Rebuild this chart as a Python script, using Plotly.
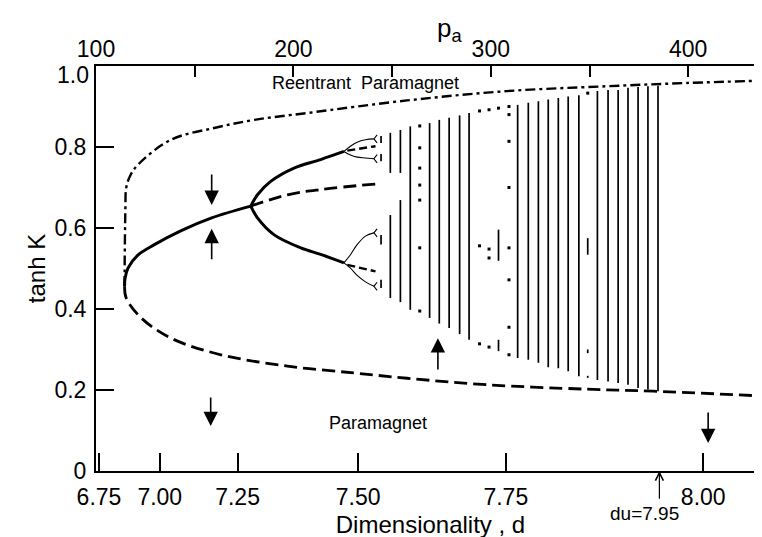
import plotly.graph_objects as go

# ---------------- data (x in p_a units, y in tanh K) ----------------
# bottom axis: dimensionality d labels placed at their p_a positions
d_tick_labels = ["6.75", "7.00", "7.25", "7.50", "7.75", "8.00"]
d_tick_pa = [101.5, 132.3, 171.7, 232.8, 307.6, 407.6]
du_pa = 385.4

pa_ticks = [100, 150, 200, 250, 300, 350, 400]
pa_tick_labels = ["100", "", "200", "", "300", "", "400"]

y_ticks = [0, 0.2, 0.4, 0.6, 0.8, 1.0]
y_tick_labels = ["0", "0.2", "0.4", "0.6", "0.8", ""]
y_top_label = "1.0"

# stable fixed point (solid) from the nose to first bifurcation
fp_pa = [114.5, 114.7, 116.2, 121.2, 129.6, 142.9, 158.6, 178.4]
fp_t = [0.456, 0.475, 0.501, 0.533, 0.559, 0.593, 0.625, 0.654]

# lower unstable branch (dashed)
low_pa = [114.5, 115.3, 122.9, 138.0, 163.3, 197.0, 230.7, 257.6, 298.0, 348.5, 382.2, 438.9]
low_t = [0.456, 0.427, 0.378, 0.328, 0.287, 0.259, 0.242, 0.229, 0.213, 0.202, 0.197, 0.185]

# upper boundary (dash-dot)
up_pa = [114.5, 114.5, 114.9, 115.3, 117.2, 121.2, 138.0, 159.9, 180.2, 207.1, 257.6, 308.1, 358.6, 399.0, 438.9]
up_t = [0.456, 0.494, 0.649, 0.699, 0.728, 0.756, 0.818, 0.847, 0.867, 0.884, 0.915, 0.938, 0.950, 0.958, 0.964]

# unstable fixed point continuation (dashed)
mid_pa = [178.4, 197.0, 213.8, 242.4]
mid_t = [0.654, 0.682, 0.695, 0.709]

# period-2 branches (solid)
p2u_pa = [178.4, 181.8, 188.5, 200.3, 213.8, 225.6]
p2u_t = [0.654, 0.682, 0.715, 0.748, 0.769, 0.789]
p2l_pa = [178.4, 181.8, 190.3, 203.7, 213.8, 225.6]
p2l_t = [0.654, 0.625, 0.583, 0.551, 0.535, 0.514]

# unstable period-2 continuation (dashed)
p2u_dash_pa = [227.3, 241.6]
p2u_dash_t = [0.791, 0.802]
p2l_dash_pa = [227.3, 241.6]
p2l_dash_t = [0.509, 0.493]

# period-4 branches (thin)
p4_pa = [225.6, 228.9, 232.3, 236.5, 240.8]
p4_uu_t = [0.789, 0.802, 0.812, 0.818, 0.820]
p4_ud_t = [0.789, 0.780, 0.775, 0.773, 0.771]
p4_lu_t = [0.514, 0.534, 0.559, 0.580, 0.588]
p4_ld_t = [0.514, 0.501, 0.483, 0.467, 0.456]

# chaotic-region vertical bands: (p_a, lower t, upper t)
seg_pa = [244.4, 244.4, 244.4, 244.4,
          249.1, 249.1,
          254.2, 254.2,
          259.2, 269.0, 273.9, 278.9, 284.2, 289.0,
          303.9, 303.9,
          313.6, 319.0, 324.1, 329.1, 334.2, 339.2, 344.6,
          349.1, 349.1, 349.1,
          354.0, 359.4, 364.5, 369.5, 374.6, 379.6, 384.7]
seg_lo = [0.765, 0.810, 0.559, 0.452,
          0.736, 0.427,
          0.736, 0.417,
          0.398, 0.378, 0.364, 0.353, 0.338, 0.324,
          0.519, 0.296,
          0.279, 0.275, 0.267, 0.256, 0.254, 0.246, 0.234,
          0.534, 0.291, 0.230,
          0.225, 0.221, 0.217, 0.213, 0.205, 0.201, 0.197]
seg_hi = [0.783, 0.827, 0.583, 0.472,
          0.835, 0.632,
          0.842, 0.669,
          0.851, 0.859, 0.867, 0.872, 0.878, 0.884,
          0.596, 0.324,
          0.904, 0.909, 0.913, 0.917, 0.921, 0.925, 0.928,
          0.575, 0.300, 0.235,
          0.938, 0.941, 0.941, 0.946, 0.948, 0.950, 0.951]

# periodic windows (isolated points)
dot_pa = [264.0] * 7 + [294.3] * 3 + [299.1] * 4 + [303.9] + [309.2] * 8 + [349.1]
dot_t = [0.852, 0.798, 0.748, 0.706, 0.669, 0.551, 0.395,
         0.889, 0.556, 0.314,
         0.892, 0.548, 0.526, 0.306,
         0.896,
         0.900, 0.880, 0.814, 0.700, 0.551, 0.472, 0.355, 0.287,
         0.933]

# ends of the period-4 branches where period-8 hooks start
hook_pa = [240.8, 240.8, 240.8, 240.8]
hook_t = [0.820, 0.771, 0.588, 0.456]

# ---------------- figure ----------------
FONT = "Liberation Sans, Arial, sans-serif"
fig = go.Figure()


def add(x, y, width=3, dash=None, shape="spline"):
    fig.add_trace(go.Scatter(
        x=x, y=y, mode="lines", showlegend=False, hoverinfo="skip",
        line=dict(color="black", width=width, dash=dash, shape=shape, smoothing=1.0)))


DASH = "13px,6px"
add(up_pa, up_t, 2.4, "10px,4px,3px,4px")
add(low_pa, low_t, 2.8, DASH)
add(mid_pa, mid_t, 2.8, DASH)
add(fp_pa, fp_t, 3)
add(p2u_pa, p2u_t, 3)
add(p2l_pa, p2l_t, 3)
add(p2u_dash_pa, p2u_dash_t, 2.4, "8px,4px")
add(p2l_dash_pa, p2l_dash_t, 2.4, "8px,4px")
for ys in (p4_uu_t, p4_ud_t, p4_lu_t, p4_ld_t):
    add(p4_pa, ys, 1.1)

# small period-8 hooks at the branch ends
hx, hy = [], []
for px, pt in zip(hook_pa, hook_t):
    hx += [px + 1.6, px, px + 1.6, None]
    hy += [pt + 0.010, pt, pt - 0.010, None]
fig.add_trace(go.Scatter(x=hx, y=hy, mode="lines", showlegend=False, hoverinfo="skip",
                         line=dict(color="black", width=1.1)))

# chaotic bands
vx, vy = [], []
for px, lo, hi in zip(seg_pa, seg_lo, seg_hi):
    vx += [px, px, None]
    vy += [lo, hi, None]
fig.add_trace(go.Scatter(x=vx, y=vy, mode="lines", showlegend=False, hoverinfo="skip",
                         line=dict(color="black", width=1.7)))
fig.add_trace(go.Scatter(x=dot_pa, y=dot_t, mode="markers", showlegend=False, hoverinfo="skip",
                         marker=dict(color="black", size=3, symbol="square")))

# dummy trace for top axis
fig.add_trace(go.Scatter(x=[150], y=[None], xaxis="x2", mode="markers",
                         showlegend=False, hoverinfo="skip"))

# arrows (tip at x,y ; tail at ax,ay)
arrows = [
    (158.6, 0.657, 158.6, 0.736),
    (158.6, 0.598, 158.6, 0.519),
    (273.2, 0.328, 273.2, 0.247),
    (158.1, 0.111, 158.1, 0.185),
    (410.1, 0.069, 410.1, 0.148),
]
for x, y, ax, ay in arrows:
    fig.add_annotation(x=x, y=y, ax=ax, ay=ay, xref="x", yref="y", axref="x", ayref="y",
                       showarrow=True, arrowhead=2, arrowsize=1.8, arrowwidth=1.6,
                       arrowcolor="black", text="")
fig.add_annotation(x=du_pa, y=0.0, ax=du_pa, ay=-0.072, xref="x", yref="y", axref="x", ayref="y",
                   showarrow=True, arrowhead=5, arrowsize=1.3, arrowwidth=1.2,
                   arrowcolor="black", text="")
fig.add_annotation(x=378, y=-0.106, xref="x", yref="paper", text="du=7.95", showarrow=False,
                   xanchor="center", yanchor="middle",
                   font=dict(family=FONT, size=19, color="black"))
fig.add_annotation(x=236.5, y=0.958, xref="x", yref="y", text="Reentrant  Paramagnet",
                   showarrow=False, font=dict(family=FONT, size=18, color="black"))
fig.add_annotation(x=243.0, y=0.119, xref="x", yref="y", text="Paramagnet",
                   showarrow=False, font=dict(family=FONT, size=18, color="black"))
fig.add_annotation(x=279.3, y=1.089, xref="x", yref="paper", text="p<sub>a</sub>",
                   xanchor="center", yanchor="middle",
                   showarrow=False, font=dict(family=FONT, size=26, color="black"))
# top y label sits a little below the frame corner, as in the original
fig.add_annotation(x=-0.008, y=0.978, xref="paper", yref="paper", text=y_top_label,
                   xanchor="right", yanchor="middle", showarrow=False,
                   font=dict(family=FONT, size=23, color="black"))

XR = [100, 438.9]
fig.update_layout(
    width=762, height=537,
    margin=dict(l=88, r=3, t=58, b=74, pad=0),
    paper_bgcolor="white", plot_bgcolor="white",
    font=dict(family=FONT, color="black"),
    xaxis=dict(range=XR, tickvals=d_tick_pa, ticktext=d_tick_labels,
               ticks="inside", ticklen=18, tickwidth=1.5, tickcolor="black",
               showline=True, linewidth=2, linecolor="black", mirror=True,
               showgrid=False, zeroline=False, tickfont=dict(size=23),
               ticklabelstandoff=4,
               title=dict(text="Dimensionality , d", font=dict(size=24), standoff=8)),
    xaxis2=dict(range=XR, overlaying="x", side="top", anchor="y",
                tickvals=pa_ticks, ticktext=pa_tick_labels,
                ticks="inside", ticklen=11, tickwidth=1.5, tickcolor="black",
                showline=False, showgrid=False, zeroline=False,
                tickfont=dict(size=23), ticklabelstandoff=3),
    yaxis=dict(range=[0, 1], tickvals=y_ticks, ticktext=y_tick_labels,
               ticks="inside", ticklen=18, tickwidth=1.5, tickcolor="black",
               showline=True, linewidth=2, linecolor="black", mirror=True,
               showgrid=False, zeroline=False, tickfont=dict(size=23),
               ticklabelstandoff=3,
               title=dict(text="tanh K", font=dict(size=24), standoff=2)),
)

fig.write_html("out.html")
